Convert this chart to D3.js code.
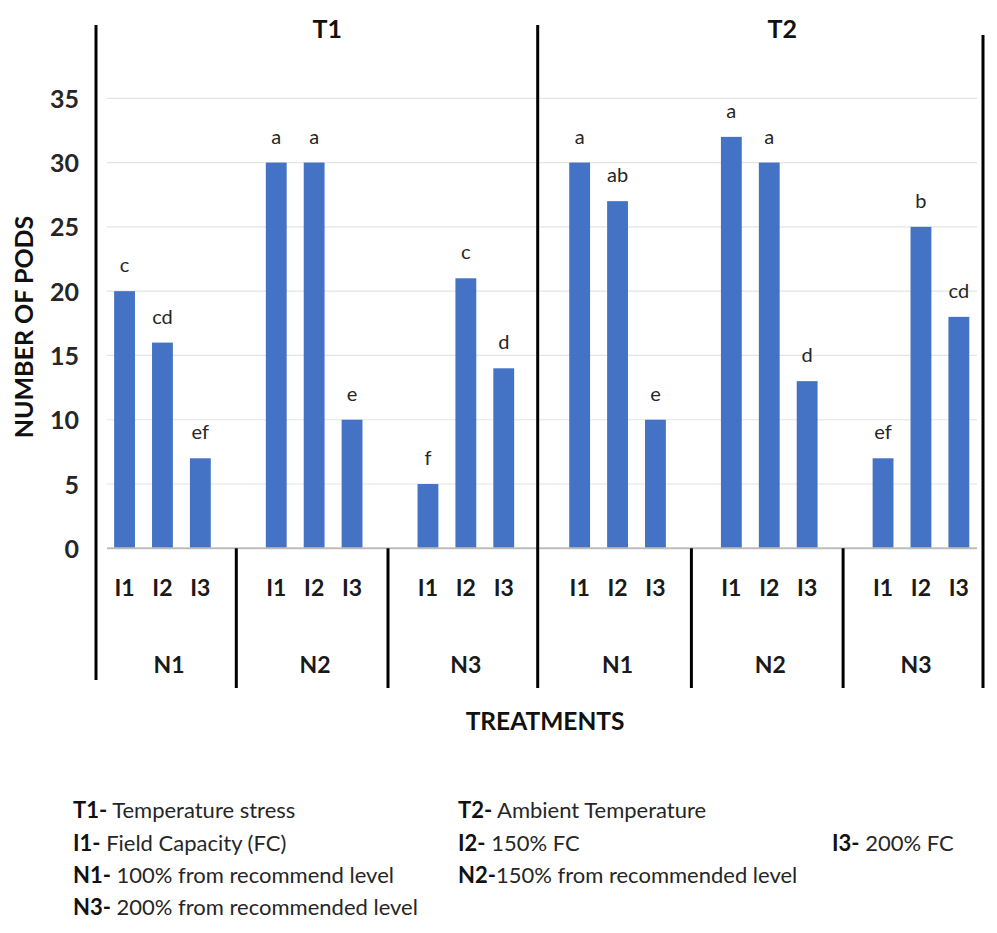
<!DOCTYPE html>
<html>
<head>
<meta charset="utf-8">
<script src="https://cdn.jsdelivr.net/npm/d3@7/dist/d3.min.js"></script>
<style>
  html, body { margin: 0; padding: 0; background: #fff; }
  svg { display: block; font-family: Lato, "Open Sans", sans-serif; }
</style>
</head>
<body>
<svg id="chart" width="997" height="933"></svg>
<script>
// ---------------- DATA ----------------
const temperatures = ["T1", "T2"];
const nitrogenLevels = ["N1", "N2", "N3"];
const irrigationLevels = ["I1", "I2", "I3"];

// Number of pods: [N][I] per temperature
const podsT1 = [
  [20, 16, 7],   // N1
  [30, 30, 10],  // N2
  [5, 21, 14]    // N3
];
const podsT2 = [
  [30, 27, 10],  // N1
  [32, 30, 13],  // N2
  [7, 25, 18]    // N3
];
const lettersT1 = [
  ["c", "cd", "ef"],
  ["a", "a", "e"],
  ["f", "c", "d"]
];
const lettersT2 = [
  ["a", "ab", "e"],
  ["a", "a", "d"],
  ["ef", "b", "cd"]
];
const yTicks = [0, 5, 10, 15, 20, 25, 30, 35];
const yTitle = "NUMBER OF PODS";
const xTitle = "TREATMENTS";

const legendKeys = ["T1-", "T2-", "I1-", "I2-", "I3-", "N1-", "N2-", "N3-"];
const legendTexts = [
  " Temperature stress",
  " Ambient Temperature",
  " Field Capacity (FC)",
  " 150% FC",
  " 200% FC",
  " 100% from recommend level",
  "150% from recommended level",
  " 200% from recommended level"
];

// ---------------- LAYOUT ----------------
const svg = d3.select("#chart");
svg.append("rect").attr("width", 997).attr("height", 933).attr("fill", "#fff");

const podsAll = [podsT1, podsT2];
const lettersAll = [lettersT1, lettersT2];
const groups = [];
temperatures.forEach((t, ti) => nitrogenLevels.forEach((n, ni) => groups.push({ key: t + "-" + n, t, n, ti, ni })));

const bars = [];
groups.forEach(g => irrigationLevels.forEach((iv, ii) => {
  bars.push({ group: g.key, i: iv, value: podsAll[g.ti][g.ni][ii], letter: lettersAll[g.ti][g.ni][ii] });
}));

const plotLeft = 107, plotRight = 977;
const frameLeft = 96, frameRight = 983;
const xGroup = d3.scaleBand().domain(groups.map(g => g.key)).range([86.6, 996.8]).padding(0);
const step = 37.9;
const bw = xGroup.bandwidth();
const xInner = d3.scaleBand().domain(irrigationLevels)
  .range([bw / 2 - 1.5 * step, bw / 2 + 1.5 * step])
  .paddingInner(0.45).paddingOuter(0.225);

const y = d3.scaleLinear().domain([0, 35]).range([548.3, 98.3]);

// gridlines
const grid = svg.append("g");
grid.selectAll("line").data(yTicks.filter(d => d > 0)).join("line")
  .attr("x1", plotLeft).attr("x2", plotRight)
  .attr("y1", d => y(d)).attr("y2", d => y(d))
  .attr("stroke", "#e4e4e4").attr("stroke-width", 1.2);

// y axis tick labels
const yAxis = d3.axisLeft(y).tickValues(yTicks).tickSize(0).tickPadding(0);
const yg = svg.append("g").attr("transform", "translate(79,0)").call(yAxis);
yg.select(".domain").remove();
yg.selectAll("text")
  .attr("font-family", "Lato, sans-serif")
  .attr("font-size", 25).attr("font-weight", "bold").attr("fill", "#262626")
  .attr("dy", "0.36em");

// bars
svg.append("g").selectAll("rect").data(bars).join("rect")
  .attr("x", d => xGroup(d.group) + xInner(d.i))
  .attr("width", xInner.bandwidth())
  .attr("y", d => y(d.value))
  .attr("height", d => y(0) - y(d.value))
  .attr("fill", "#4472C4");

// baseline
svg.append("line").attr("x1", plotLeft).attr("x2", plotRight)
  .attr("y1", y(0)).attr("y2", y(0)).attr("stroke", "#bcbcbc").attr("stroke-width", 2);

// letters above bars
svg.append("g").selectAll("text").data(bars).join("text")
  .attr("x", d => xGroup(d.group) + xInner(d.i) + xInner.bandwidth() / 2)
  .attr("y", d => y(d.value) - 19)
  .attr("text-anchor", "middle")
  .attr("font-size", 20).attr("fill", "#262626")
  .text(d => d.letter);

// I labels
svg.append("g").selectAll("text").data(bars).join("text")
  .attr("x", d => xGroup(d.group) + xInner(d.i) + xInner.bandwidth() / 2)
  .attr("y", 588).attr("dy", "0.36em")
  .attr("text-anchor", "middle")
  .attr("font-size", 23).attr("font-weight", "bold").attr("fill", "#1a1a1a")
  .text(d => d.i);

// separators between N groups (within each T)
const seps = [];
groups.forEach((g, k) => { if (k > 0 && g.ni > 0) seps.push(xGroup(g.key) - 2); });
svg.append("g").selectAll("line").data(seps).join("line")
  .attr("x1", d => d).attr("x2", d => d)
  .attr("y1", y(0)).attr("y2", 688)
  .attr("stroke", "#000").attr("stroke-width", 3);

// frame lines: left, T1/T2 divider, right
const tDivider = xGroup(groups[3].key) - 4;
svg.append("line").attr("x1", frameLeft).attr("x2", frameLeft).attr("y1", 25).attr("y2", 680)
  .attr("stroke", "#000").attr("stroke-width", 3);
svg.append("line").attr("x1", tDivider).attr("x2", tDivider).attr("y1", 25).attr("y2", 688)
  .attr("stroke", "#000").attr("stroke-width", 3);
svg.append("line").attr("x1", frameRight).attr("x2", frameRight).attr("y1", 35).attr("y2", 688)
  .attr("stroke", "#000").attr("stroke-width", 3);

// N labels
const sepBounds = [frameLeft, ...seps.slice(0, 2), tDivider, ...seps.slice(2), frameRight];
svg.append("g").selectAll("text").data(groups).join("text")
  .attr("x", (g, k) => (sepBounds[k] + sepBounds[k + 1]) / 2 + 3)
  .attr("y", 665).attr("dy", "0.36em")
  .attr("text-anchor", "middle")
  .attr("font-size", 23).attr("font-weight", "bold").attr("fill", "#1a1a1a")
  .text(g => g.n);

// T titles
svg.append("g").selectAll("text").data(temperatures).join("text")
  .attr("x", t => xGroup(t + "-N2") + bw / 2 + 13)
  .attr("y", 29).attr("dy", "0.36em")
  .attr("text-anchor", "middle")
  .attr("font-size", 25).attr("font-weight", "bold").attr("fill", "#111")
  .text(t => t);

// axis titles
svg.append("text")
  .attr("transform", "translate(24,327) rotate(-90)")
  .attr("dy", "0.36em").attr("text-anchor", "middle")
  .attr("font-size", 25).attr("font-weight", "bold").attr("fill", "#111")
  .text(yTitle);
svg.append("text")
  .attr("x", 545).attr("y", 721).attr("dy", "0.36em").attr("text-anchor", "middle")
  .attr("font-size", 24.5).attr("font-weight", "bold").attr("fill", "#111")
  .text(xTitle);

// legend
const legendCols = [73, 458, 832];
const legendRows = [810, 843, 875, 907];
const legendPos = [[0, 0], [1, 0], [0, 1], [1, 1], [2, 1], [0, 2], [1, 2], [0, 3]];
const lg = svg.append("g");
legendKeys.forEach((k, idx) => {
  const [c, r] = legendPos[idx];
  const t = lg.append("text")
    .attr("x", legendCols[c]).attr("y", legendRows[r]).attr("dy", "0.36em")
    .attr("font-size", 22).attr("fill", "#262626")
    .attr("xml:space", "preserve").style("white-space", "pre");
  t.append("tspan").attr("font-weight", "bold").attr("fill", "#111").text(k);
  t.append("tspan").text(legendTexts[idx]);
});
</script>
</body>
</html>
